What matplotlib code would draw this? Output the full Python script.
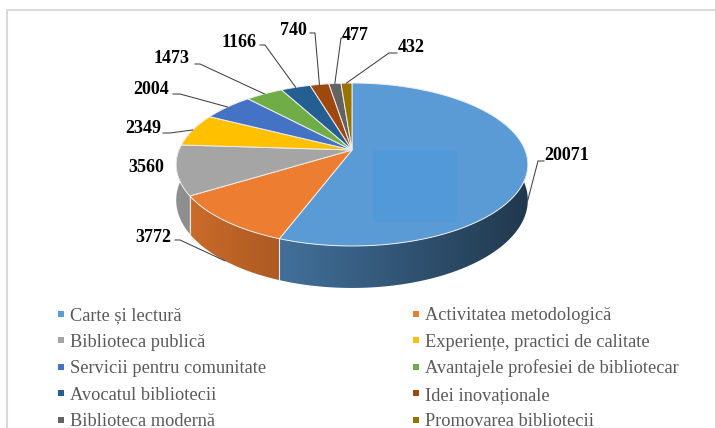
import numpy as np
import matplotlib
matplotlib.use("Agg")
import matplotlib.pyplot as plt
from matplotlib.patches import Polygon, Rectangle

# data
categories = [
    "Carte și lectură",
    "Activitatea metodologică",
    "Biblioteca publică",
    "Experiențe, practici de calitate",
    "Servicii pentru comunitate",
    "Avantajele profesiei de bibliotecar",
    "Avocatul bibliotecii",
    "Idei inovaționale",
    "Biblioteca modernă",
    "Promovarea bibliotecii",
]
values = [20071, 3772, 3560, 2349, 2004, 1473, 1166, 740, 477, 432]
colors = ["#5B9BD5", "#ED7D31", "#A5A5A5", "#FFC000", "#4472C4",
          "#70AD47", "#255E91", "#9E480E", "#636363", "#997300"]

# layout (pixel coords)
CX, CY = 352, 150          # pie vertex
A, B = 173, 78.9           # rim radii
K = 0.178                  # perspective
DEPTH = 34.5

# label text centre, leader start, leader elbow (None -> no leader)
label_pos = [
    ((567, 155), (544, 161), (538, 161)),
    ((153, 237), (175, 240), (180, 240)),
    ((146, 167), None, None),
    ((143, 128), (163, 133), (170, 133)),
    ((151, 89), (173, 94), (180, 94)),
    ((172, 58), (195, 64), (200, 64)),
    ((239, 42), (260, 45), (265, 45)),
    ((293, 30), (310, 33), (315, 33)),
    ((355, 35), (342, 38), (341, 38)),
    ((411, 47), (397, 53), (389, 53)),
]
# leader ends on bottom edge of the side wall for these
on_wall = [True, True, False, False, False, False, False, False, False, False]


def proj(theta, drop=0.0):
    u, v = np.cos(theta), np.sin(theta)
    w = 1 + K * v
    return CX + A * u / w, CY - B * v / w + drop / w


fig = plt.figure(figsize=(7.15, 4.28), dpi=100)
ax = fig.add_axes([0, 0, 1, 1])
ax.set_xlim(0, 715)
ax.set_ylim(428, 0)
ax.axis("off")

# frame
ax.plot([6.5, 6.5, 715], [428, 9.5, 9.5], color="#d9d9d9", lw=1.5)

total = sum(values)
cum = np.concatenate([[0], np.cumsum(values)]) / total
starts = np.deg2rad(90 - 360 * cum[:-1])
ends = np.deg2rad(90 - 360 * cum[1:])

# side walls (front part) with a left-to-right shading gradient
gx = np.linspace(CX - A - 10, CX + A + 10, 400)
fac = np.clip(0.62 - 0.25 * (gx - CX) / A, 0, 1)
for i, c in enumerate(colors):
    th = np.linspace(starts[i], ends[i], 300)
    th = th[np.sin(th) < 0.08]
    if len(th) < 2:
        continue
    xt, yt = proj(th)
    xb, yb = proj(th, DEPTH)
    pts = list(zip(xt, yt)) + list(zip(xb[::-1], yb[::-1]))
    wall = Polygon(pts, closed=True, facecolor="none", edgecolor="none")
    ax.add_patch(wall)
    rgb = np.array(matplotlib.colors.to_rgb(c))
    grad = np.clip(fac[None, :, None] * rgb[None, None, :], 0, 1)
    im = ax.imshow(grad, extent=(gx[0], gx[-1], CY + B + 60, CY - 10),
                   aspect="auto", interpolation="bilinear", zorder=1)
    im.set_clip_path(wall)
    # light seam at slice boundary on the wall
    if np.sin(starts[i]) < 0:
        xs, ys = proj(starts[i])
        _, ysb = proj(starts[i], DEPTH)
        ax.plot([xs, xs], [ys, ysb], color="#e6e6e6", lw=0.8, zorder=2)

# top faces
for i, c in enumerate(colors):
    th = np.linspace(starts[i], ends[i], 200)
    xs, ys = proj(th)
    pts = [(CX, CY)] + list(zip(xs, ys))
    ax.add_patch(Polygon(pts, closed=True, facecolor=c, edgecolor="#eeeeee",
                         lw=0.7, zorder=3))

# slightly different square on the big slice
ax.add_patch(Rectangle((373, 150), 84, 72, facecolor="#4a98de", edgecolor="none",
                       alpha=0.5, zorder=4))

# data labels and leaders
for i, v in enumerate(values):
    (tx, ty), p0, p1 = label_pos[i]
    ax.text(tx, ty, str(v), ha="center", va="center", fontsize=13,
            fontweight="bold", family="Liberation Serif", color="black", zorder=5)
    if p0 is None:
        continue
    mid = (starts[i] + ends[i]) / 2
    ex, ey = proj(mid, DEPTH if on_wall[i] else 0.0)
    ax.plot([p0[0], p1[0], ex], [p0[1], p1[1], ey], color="#404040", lw=0.75, zorder=5)

# legend
col_marker_x = [61, 415.5]
col_text_x = [70, 425]
row_base = 320.5
row_step = 26.4
for i, name in enumerate(categories):
    col, row = i % 2, i // 2
    yb = row_base + row * row_step
    ax.scatter([col_marker_x[col]], [yb - 6.5], marker="s", s=20, color=colors[i],
               lw=0, zorder=5)
    ax.text(col_text_x[col], yb, name, ha="left", va="baseline", fontsize=13.2,
            family="Liberation Serif", color="#595959", zorder=5)

ax.set_xlim(0, 715)
ax.set_ylim(428, 0)
fig.savefig("out.png", dpi=100)
